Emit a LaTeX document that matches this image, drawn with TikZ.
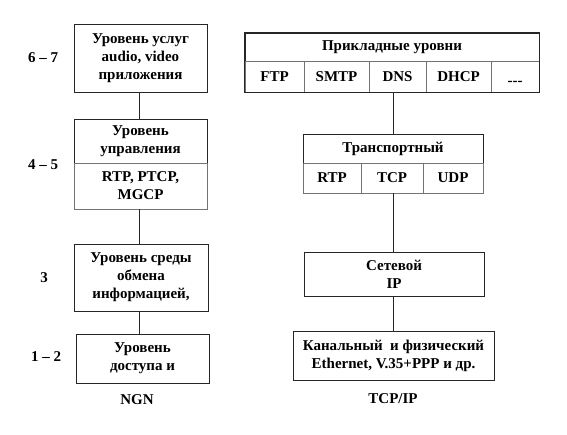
\documentclass[tikz,border=0pt]{standalone}
\usepackage{fontspec}
\setmainfont{Liberation Serif}
\begin{document}
\begin{tikzpicture}[x=1pt,y=-1pt,
  box/.style={draw=black!85, line width=0.6pt, inner sep=0pt, align=center,
    font=\fontsize{15}{18}\selectfont\bfseries},
  cell/.style={box, draw=black!55},
  lbl/.style={inner sep=0pt, font=\fontsize{15}{18}\selectfont\bfseries},
  link/.style={draw=black!85, line width=0.6pt}]
\useasboundingbox (0,0) rectangle (567,435);
\coordinate (xL) at (139,0);
\coordinate (xR) at (393,0);
% NGN column
\node[box, minimum width=133pt, minimum height=68pt] (b1) at (140.5,58)
  {Уровень услуг\\audio, video\\приложения};
\node[box, minimum width=133pt, minimum height=44pt] (b2t) at (140.5,141)
  {Уровень\\управления};
\node[cell, minimum width=133pt, minimum height=46pt] (b2b) at (140.5,186)
  {RTP, PTCP,\\MGCP};
\node[box, minimum width=134pt, minimum height=67pt] (b3) at (141,277.5)
  {Уровень среды\\обмена\\информацией,};
\node[box, minimum width=133pt, minimum height=49pt] (b4) at (142.5,358.5)
  {Уровень\\доступа и};
\node[lbl] (l67) at (43,58) {6 – 7};
\node[lbl] (l45) at (43,165) {4 – 5};
\node[lbl] (l3) at (44,278) {3};
\node[lbl] (l12) at (46,357) {1 – 2};
\node[lbl] (ngn) at (137,400) {NGN};
\draw[link] (b1.south -| xL) -- (b2t.north -| xL);
\draw[link] (b2b.south -| xL) -- (b3.north -| xL);
\draw[link] (b3.south -| xL) -- (b4.north -| xL);
% TCP/IP column
\node[box, minimum width=294pt, minimum height=28pt] (app) at (392,47)
  {Прикладные уровни};
\node[cell, minimum width=59pt, minimum height=31pt] (ftp) at (274.5,76.5) {FTP};
\node[cell, minimum width=65pt, minimum height=31pt] (smtp) at (336.5,76.5) {SMTP};
\node[cell, minimum width=57pt, minimum height=31pt] (dns) at (397.5,76.5) {DNS};
\node[cell, minimum width=65pt, minimum height=31pt] (dhcp) at (458.5,76.5) {DHCP};
\node[cell, minimum width=48pt, minimum height=31pt] (etc) at (515,76.5)
  {\vphantom{D}\smash{\raisebox{-4pt}{-{}-{}-}}};
\draw[box] (app.north west) rectangle (etc.south east);
\node[box, minimum width=180pt, minimum height=29pt] (tr) at (393,148.5)
  {Транспортный};
\node[cell, minimum width=58pt, minimum height=30pt] (rtp) at (332,178) {RTP};
\node[cell, minimum width=62pt, minimum height=30pt] (tcp) at (392,178) {TCP};
\node[cell, minimum width=60pt, minimum height=30pt] (udp) at (453,178) {UDP};
\node[box, minimum width=180pt, minimum height=44pt] (net) at (394,274)
  {Сетевой\\IP};
\node[box, minimum width=201pt, minimum height=49pt] (lnk) at (393.5,355.5)
  {Канальный\ \ и физический\\Ethernet, V.35+PPP и др.};
\node[lbl] (tcpip) at (393,399) {TCP/IP};
\draw[link] (dns.south -| xR) -- (tr.north -| xR);
\draw[link] (tcp.south -| xR) -- (net.north -| xR);
\draw[link] (net.south -| xR) -- (lnk.north -| xR);
\end{tikzpicture}
\end{document}
